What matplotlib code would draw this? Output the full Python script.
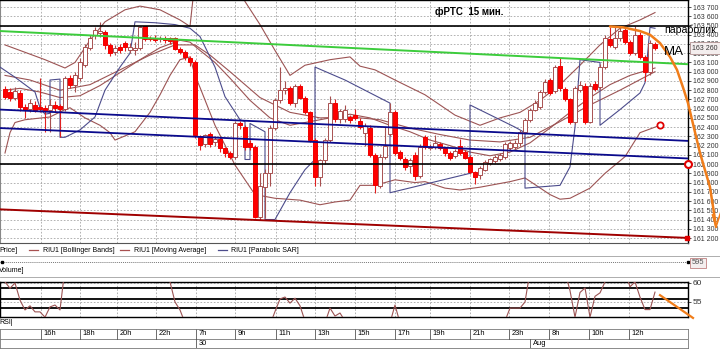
import matplotlib
matplotlib.use('Agg')
import matplotlib.pyplot as plt
from matplotlib.lines import Line2D
import numpy as np

# ---------------- data ----------------
opens = [162810,162780,162710,162770,162620,162600,162640,162620,162610,162590,
         162640,162630,162600,162930,162860,162930,163070,163260,163400,163420,
         163430,163290,163210,163270,163310,163230,163230,163260,163490,163370,
         163370,163350,163370,163360,163360,163250,163210,163150,163110,162300,
         162220,162330,162240,162270,162170,162120,162080,162450,162400,162230,
         162190,161430,161750,161900,162390,162690,162800,162820,162660,162850,
         162720,162560,162260,161860,162040,162260,162660,162490,162490,162510,
         162530,162470,162340,162390,162100,161760,162080,162330,162560,162130,
         162060,161980,162100,161870,162290,162170,162180,162220,162170,162120,
         162090,162200,162130,162080,161910,161880,161940,162010,162030,162050,
         162080,162170,162180,162230,162350,162480,162590,162620,162780,162910,
         162790,163060,162810,162700,162460,162800,162850,162460,162870,162830,
         163050,163350,163270,163360,163450,163320,163200,163400,163160,163000,
         163300]
highs = [162850,162820,162830,162800,162650,162700,162680,162930,162640,162700,
         162680,162650,162950,162960,163000,163150,163300,163400,163480,163540,
         163450,163310,163290,163300,163330,163310,163320,163500,163500,163390,
         163400,163390,163390,163380,163380,163270,163230,163170,163130,162320,
         162330,162350,162300,162290,162190,162140,162470,162470,162420,162260,
         162210,161900,161950,162420,162720,163050,162900,162850,162870,162870,
         162740,162580,162280,162060,162280,162740,162700,162600,162640,162530,
         162600,162500,162440,162420,162120,162110,162400,162660,162590,162150,
         162080,162070,162130,162220,162320,162220,162320,162240,162190,162140,
         162160,162270,162150,162100,161930,161980,162040,162070,162100,162120,
         162240,162250,162260,162370,162500,162610,162690,162800,162920,162930,
         163070,163150,162830,162720,162850,162900,162880,162880,162900,163080,
         163400,163480,163480,163480,163490,163340,163490,163430,163180,163340,
         163320]
lows = [162700,162680,162690,162580,162500,162560,162560,162560,162350,162350,
        162560,162290,162580,162820,162780,162900,163050,163230,163350,163380,
        163250,163170,163180,163200,163220,163200,163180,163240,163330,163330,
        163320,163320,163310,163300,163230,163190,163130,163060,162280,162150,
        162190,162180,162200,162130,162080,162060,162060,162380,162150,162150,
        161420,161400,161420,161760,162370,162660,162760,162640,162620,162700,
        162540,162240,161760,161760,162000,162240,162460,162450,162460,162450,
        162480,162380,162200,162080,161690,161740,162060,162300,162100,162040,
        161940,161900,161830,161850,162160,162150,162160,162150,162090,162040,
        162070,162100,162050,161890,161780,161840,161920,161990,162010,162030,
        162060,162150,162160,162200,162330,162460,162570,162600,162760,162750,
        162770,162790,162680,162430,162430,162780,162430,162440,162790,162810,
        163030,163270,163250,163330,163300,163180,163180,163140,162900,162960,
        163240]
closes = [162730,162710,162790,162620,162590,162660,162590,162600,162580,162640,
          162610,162600,162930,162860,162960,163100,163270,163360,163450,163440,
          163290,163200,163260,163230,163270,163270,163260,163480,163350,163350,
          163340,163360,163340,163330,163250,163210,163160,163110,162320,162210,
          162310,162220,162270,162170,162120,162080,162440,162420,162190,162190,
          161430,161760,161900,162390,162690,162800,162820,162660,162840,162720,
          162560,162260,161860,162040,162260,162660,162490,162570,162590,162480,
          162500,162400,162410,162100,161770,162080,162200,162560,162120,162070,
          161970,162040,161870,162190,162190,162190,162230,162170,162120,162070,
          162140,162120,162070,161910,161860,161960,162020,162050,162080,162100,
          162220,162230,162230,162350,162480,162590,162660,162780,162890,162770,
          163050,162820,162700,162460,162820,162860,162460,162840,162810,163050,
          163360,163290,163360,163440,163320,163200,163400,163160,163000,163310,
          163260]

# Bollinger bands / moving average / parabolic SAR (bar index, price)
bb_upper_t = [0, 3, 8, 12, 14, 17, 20, 24, 27, 31, 35, 37, 38, 46, 48, 51, 54, 57, 60, 65,
              69, 71, 74, 78, 84, 90, 95, 99, 103, 107, 111, 115, 119, 123, 127, 130]
bb_upper = [163290, 163230, 163130, 163040, 163100, 163340, 163540, 163670, 163710, 163670,
            163560, 163490, 163990, 163990, 163760, 163510, 163230, 162960, 163070, 163130,
            163160, 163060, 163020, 162910, 162750, 162530, 162420, 162500, 162560, 162690,
            162860, 163070, 163290, 163470, 163560, 163640]
bb_mid_t = [0, 3, 7, 11, 15, 19, 23, 27, 31, 35, 37, 39, 42, 45, 49, 53, 57, 61, 65, 69,
            73, 77, 81, 85, 89, 93, 97, 101, 105, 109, 113, 117, 121, 125, 130]
bb_mid = [162800, 162820, 162780, 162720, 162740, 162850, 162990, 163130, 163260, 163340,
          163320, 163230, 163100, 162930, 162690, 162500, 162420, 162460, 162500, 162540,
          162500, 162420, 162350, 162260, 162200, 162130, 162090, 162130, 162230, 162390,
          162560, 162720, 162860, 162960, 163040]
bb_lower_t = [0, 1, 2, 4, 9, 12, 13, 16, 19, 21, 22, 26, 29, 31, 33, 35, 37, 38, 39, 42,
              46, 50, 54, 59, 63, 66, 69, 71, 74, 78, 82, 84, 88, 91, 95, 101, 104, 109,
              111, 113, 117, 120, 124, 127, 131]
bb_lower = [162120, 162340, 162450, 162480, 162510, 162590, 162610, 162500, 162420, 162340,
            162260, 162350, 162560, 162750, 162960, 163130, 163160, 162960, 162830, 162420,
            161990, 161670, 161630, 161610, 161560, 161590, 161610, 161770, 161770, 161830,
            161800, 161810, 161740, 161720, 161750, 161810, 161850, 161670, 161620, 161630,
            161740, 161900, 162080, 162340, 162420]
ma_t = [0, 5, 11, 17, 23, 29, 34, 38, 41, 45, 51, 57, 63, 69, 75, 81, 87, 93, 99, 105,
        111, 117, 123, 130]
ma = [162960, 162910, 162800, 162860, 163020, 163180, 163290, 163290, 163180, 163000,
      162720, 162560, 162500, 162510, 162480, 162390, 162320, 162260, 162240, 162290,
      162460, 162640, 162800, 163000]
sar_t = [-1, 2, 6, 7, 8, 9, 9, 11, 11, 12, 15, 18, 20, 23, 25, 26, 30, 34, 37, 39, 42, 44,
         47, 48, 48, 49, 49, 52, 52, 54, 57, 60, 62, 62, 68, 77, 77, 93, 93, 102, 104, 104,
         111, 113, 114, 115, 119, 119, 123, 127, 128, 129, 130]
sar = [163050, 162940, 162780, 162610, 162540, 162550, 162910, 162920, 162290, 162290,
       162370, 162510, 162800, 163050, 163200, 163540, 163530, 163510, 163470, 163380,
       163050, 162730, 162480, 162460, 162050, 162050, 162440, 162350, 161400, 161400,
       161690, 161940, 162050, 163050, 162910, 162660, 161690, 161900, 162640, 162400,
       162340, 161740, 161770, 161970, 162400, 163130, 163100, 162420, 162590, 162770,
       162880, 163480, 163470]

# RSI (bar index, value)
rsi_t = [0, 1, 2, 3, 4, 5, 6, 7, 8, 9, 10, 11, 12, 32, 33, 34, 35, 36, 53, 54, 55, 56, 57,
         58, 59, 60, 64, 65, 66, 67, 68, 77, 78, 79, 100, 101, 102, 103, 104, 105, 112,
         113, 114, 115, 116, 117, 118, 119, 120, 121, 124, 125, 126, 127, 128, 129, 130]
rsi = [60.3, 58.6, 60.0, 55.5, 52.9, 54.0, 52.4, 52.4, 51.0, 53.7, 54.2, 52.9, 64.0, 64.0,
       60.3, 55.0, 52.9, 49.5, 49.0, 52.5, 55.8, 56.3, 54.7, 56.0, 54.0, 50.0, 49.5, 53.4,
       51.3, 52.1, 50.0, 49.5, 54.2, 49.5, 50.0, 53.4, 53.4, 53.4, 55.0, 63.0, 63.0, 58.0,
       51.0, 57.5, 58.7, 51.0, 56.5, 57.4, 60.3, 63.0, 63.0, 59.0, 60.3, 56.3, 53.0, 53.0,
       57.6]

# Hand-drawn trend lines (bar index, price)
green_t, green_p = [-1, 137], [163440, 163080]
blue1_t, blue1_p = [-1, 137], [162590, 162250]
blue2_t, blue2_p = [-1, 137], [162390, 162060]
red_t, red_p = [-1, 137], [161510, 161200]
black_levels = [163490, 162000]
orange_t = [121, 123.6, 127, 129, 131, 133, 134.4, 135.6, 136.6, 137.4, 139, 141, 142, 142.2]
orange_p = [163490, 163480, 163440, 163400, 163310, 163160, 163020, 162830, 162660,
            162480, 162120, 161750, 161400, 161320]
orange_rsi_t, orange_rsi = [131, 137.6], [56.8, 50.8]

# Time axis
time_ticks = [7.2, 15, 22.4, 30.2, 38.2, 46, 54.2, 62, 70, 78, 85, 93, 100.8, 108.8, 116.8, 124.8]
time_labels = ['16h', '18h', '20h', '22h', '7h', '9h', '11h', '13h', '15h', '17h', '19h',
               '21h', '23h', '8h', '10h', '12h']
date_ticks = [38.2, 105]
date_labels = ['30', 'Aug']
price_ticks = list(range(161200, 163701, 100))
last_price = 163260
volume_last = 595

# ---------------- drawing ----------------
FONT = 'Liberation Sans'
plt.rcParams['font.family'] = [FONT, 'DejaVu Sans']

W, H = 720, 350
def P(x, y):
    return (x / W, 1 - y / H)

fig = plt.figure(figsize=(7.2, 3.5), dpi=100)
fig.patch.set_facecolor('white')

XL = (-1, 136.6)
ax = fig.add_axes([0, 1 - 243 / H, 688 / W, 243 / H])
ax.set_xlim(*XL)
ax.set_ylim(161146, 163776)

grid_kw = dict(color='#a6a6a6', lw=0.6, ls=(0, (2, 2)), zorder=1)
for p in price_ticks:
    ax.axhline(p, **grid_kw)
for tt in time_ticks:
    ax.axvline(tt, **grid_kw)

o = np.array(opens); h = np.array(highs); l = np.array(lows); c = np.array(closes)
t = np.arange(len(c))
up = c >= o
wick_col = np.where(up, '#a85050', '#e02020')
ax.vlines(t, l, h, colors=wick_col, lw=0.8, zorder=3)
body_h = np.maximum(np.abs(c - o), 8)
ax.bar(t, body_h, bottom=np.minimum(o, c), width=0.7,
       color=np.where(up, 'white', '#ff0000'),
       edgecolor=np.where(up, '#a85050', '#f00000'), lw=0.7, zorder=3.2)

ind_col = '#9c5454'
ax.plot(bb_upper_t, bb_upper, color=ind_col, lw=0.8, zorder=2.5)
ax.plot(bb_mid_t, bb_mid, color=ind_col, lw=0.8, zorder=2.5)
ax.plot(bb_lower_t, bb_lower, color=ind_col, lw=0.8, zorder=2.5)
ax.plot(ma_t, ma, color=ind_col, lw=0.8, zorder=2.5)
ax.plot(sar_t, sar, color='#4c4c8c', lw=0.8, zorder=2.6)

ax.plot(green_t, green_p, color='#3ccc3c', lw=1.4, zorder=4)
ax.plot(blue1_t, blue1_p, color='#0a0a8c', lw=1.3, zorder=4)
ax.plot(blue2_t, blue2_p, color='#0a0a8c', lw=1.3, zorder=4)
ax.plot(red_t, red_p, color='#a00000', lw=1.4, zorder=4)
for lv in black_levels:
    ax.axhline(lv, color='black', lw=1.2, zorder=4)

ax.plot(orange_t, orange_p, color='#f07d1a', lw=1.8, zorder=6, clip_on=False,
        solid_capstyle='round')
ax.plot([orange_t[-1] - 0.7, orange_t[-1], orange_t[-1] + 0.9],
        [orange_p[-1] + 130, orange_p[-1], orange_p[-1] + 150],
        color='#f07d1a', lw=1.2, zorder=6, clip_on=False)

ax.plot(bb_lower_t[-1], bb_lower[-1], 'o', mfc='white', mec='#e00000', ms=4.5, mew=1.3, zorder=7)
ax.plot(XL[1], black_levels[1], 'o', mfc='white', mec='#e00000', ms=5, mew=1.5,
        zorder=7, clip_on=False)
ax.plot(XL[1] - 0.2, red_p[-1], 's', color='#e00000', ms=3.5, zorder=7, clip_on=False)

ax.yaxis.tick_right()
ax.set_yticks(price_ticks)
ax.set_yticklabels([f"{v // 1000} {v % 1000:03d}" for v in price_ticks])
ax.tick_params(axis='y', length=2.5, width=0.6, labelsize=5.0, pad=0.8, colors='#333333')
ax.set_xticks([])
for s in ['top', 'right']:
    ax.spines[s].set_color('black'); ax.spines[s].set_linewidth(1.0)
ax.spines['bottom'].set_color('#555555'); ax.spines['bottom'].set_linewidth(0.8)
ax.spines['left'].set_color('#888888'); ax.spines['left'].set_linewidth(0.8)

# annotations
fig.text(*P(435, 12), 'фРТС  15 мин.', fontsize=7, fontweight='bold', va='center', ha='left')
fig.text(*P(664, 30), 'параболик', fontsize=7.6, va='center', ha='left', zorder=10)
fig.text(*P(664, 52), 'MA', fontsize=9.5, va='center', ha='left', zorder=10)
fig.text(*P(692, 48), f"{last_price // 1000} {last_price % 1000:03d}", fontsize=5.0,
         va='center', ha='left', color='#333333', zorder=9,
         bbox=dict(boxstyle='square,pad=0.3', fc='#f4eeee', ec='#b09090', lw=0.6))

# legend row
ly = 250
LFS = 5.0
fig.text(*P(-1, ly), 'Price]', fontsize=LFS, va='center', ha='left')
leg = [(29, 38, 43, '#a85050', 'RIU1 [Bollinger Bands]'),
       (120, 129, 134, '#a85050', 'RIU1 [Moving Average]'),
       (218, 227, 231, '#4c4c8c', 'RIU1 [Parabolic SAR]')]
for x0, x1, xt, col, lab in leg:
    fig.add_artist(Line2D([x0 / W, x1 / W], [1 - ly / H] * 2, color=col, lw=0.9))
    fig.text(*P(xt, ly), lab, fontsize=LFS, va='center', ha='left')

for yy in (256, 277):
    fig.add_artist(Line2D([0, 1], [1 - yy / H] * 2, color='#a0a0a0', lw=0.6))

# volume strip
axv = fig.add_axes([0, 1 - 266 / H, 688 / W, 8 / H])
axv.set_xlim(*XL); axv.set_ylim(0, 1)
axv.axhline(0.5, color='#777777', lw=0.7, ls=(0, (1, 1)))
axv.plot([XL[0] + 0.3, XL[1]], [0.5, 0.5], 's', color='black', ms=2, clip_on=False)
axv.axis('off')
fig.text(*P(692, 263), str(volume_last), fontsize=5.4, va='center', ha='left', color='#555555',
         bbox=dict(boxstyle='square,pad=0.25', fc='#f4eeee', ec='#c08080', lw=0.6))
fig.text(*P(-1, 271), 'Volume]', fontsize=LFS, va='center', ha='left')

# RSI panel
axr = fig.add_axes([0, 1 - 317 / H, 688 / W, 35 / H])
axr.set_xlim(*XL)
axr.set_ylim(51.05, 60.26)
for v in (60, 55):
    axr.axhline(v, **grid_kw)
for tt in time_ticks:
    axr.axvline(tt, **grid_kw)
for v in (58.7, 55.8, 53.4):
    axr.axhline(v, color='black', lw=1.3, zorder=2)
axr.plot(rsi_t, rsi, color=ind_col, lw=0.8, zorder=3)
axr.plot(orange_rsi_t, orange_rsi, color='#f07d1a', lw=1.6, zorder=6, clip_on=False)
axr.yaxis.tick_right()
axr.set_yticks([55, 60])
axr.tick_params(axis='y', length=2.5, width=0.6, labelsize=6, pad=1, colors='#333333')
axr.set_xticks([])
for s in axr.spines.values():
    s.set_color('black'); s.set_linewidth(1.0)
fig.text(*P(-1, 322), 'RSI|', fontsize=LFS, va='center', ha='left')

# time axis
axt = fig.add_axes([0, 1 - 348 / H, 688 / W, 19 / H])
axt.set_xlim(*XL); axt.set_ylim(0, 2)
axt.axhline(1, color='#777777', lw=0.6)
for tt, lab in zip(time_ticks, time_labels):
    axt.plot([tt, tt], [1, 2], color='#555555', lw=0.6)
    axt.text(tt + 0.5, 1.5, lab, fontsize=5.4, va='center', ha='left')
for tt, lab in zip(date_ticks, date_labels):
    axt.plot([tt, tt], [0, 1], color='#555555', lw=0.6)
    axt.text(tt + 0.5, 0.5, lab, fontsize=5.4, va='center', ha='left')
axt.set_xticks([]); axt.set_yticks([])
for s in axt.spines.values():
    s.set_color('#777777'); s.set_linewidth(0.6)

fig.savefig('out.png', dpi=100)
